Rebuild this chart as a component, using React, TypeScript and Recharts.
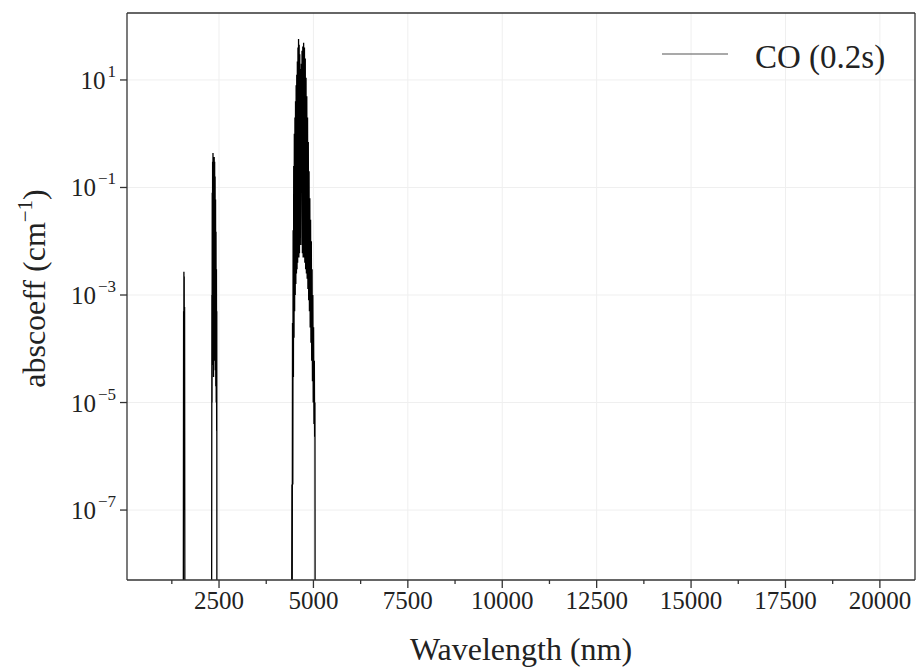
import React from 'react';
import { LineChart, Line, XAxis, YAxis, CartesianGrid, ReferenceLine } from 'recharts';

// CO absorption spectrum: [wavelength nm, abscoeff cm^-1]
const band1: [number, number][] = [
  [1550, 1e-12], [1562, 5e-4], [1566, 1e-7], [1570, 2.7e-3], [1574, 1e-7],
  [1578, 2.2e-3], [1582, 1e-7], [1588, 6e-4], [1594, 1e-8], [1600, 1e-12],
];

const band2: [number, number][] = [
  [2300, 1e-12], [2311, 1e-3], [2315, 1e-5], [2320, 0.08], [2325, 5e-5],
  [2330, 0.3], [2335, 6e-5], [2340, 0.44], [2345, 6e-5], [2350, 0.36],
  [2355, 3e-5], [2360, 0.34], [2366, 6e-5], [2372, 0.37], [2378, 7e-5],
  [2384, 0.3], [2390, 6e-5], [2396, 0.16], [2402, 4e-5], [2408, 0.06],
  [2414, 2e-5], [2420, 0.015], [2426, 1e-5], [2432, 3e-3], [2437, 3e-6],
  [2441, 5e-4], [2444, 1e-12],
];

const band3: [number, number][] = [
  [4415, 1e-12], [4430, 3e-7], [4438, 1e-9], [4446, 3e-4], [4454, 3e-7],
  [4462, 0.016], [4470, 3e-5], [4478, 0.25], [4486, 1.6e-4], [4494, 1],
  [4502, 5e-4], [4510, 2], [4518, 1e-3], [4526, 4], [4534, 1.6e-3],
  [4542, 8], [4550, 2.5e-3], [4558, 12.5], [4566, 3e-3], [4574, 22],
  [4582, 4e-3], [4590, 40], [4598, 5e-3], [4606, 58], [4614, 5e-3],
  [4622, 45], [4630, 6e-3], [4638, 30], [4646, 0.1], [4652, 16],
  [4666, 8.5e-3], [4680, 20], [4688, 0.1], [4698, 35], [4708, 6e-3],
  [4718, 42], [4728, 5e-3], [4740, 49], [4750, 5e-3], [4762, 40],
  [4772, 4e-3], [4784, 25], [4794, 3e-3], [4804, 11], [4814, 2.5e-3],
  [4824, 5], [4834, 2e-3], [4844, 2], [4854, 1.3e-3], [4864, 0.7],
  [4874, 8e-4], [4884, 0.2], [4894, 5e-4], [4904, 0.063], [4914, 2.5e-4],
  [4924, 0.025], [4934, 1.3e-4], [4944, 0.01], [4954, 6e-5], [4964, 3e-3],
  [4974, 2.5e-5], [4984, 1e-3], [4994, 1e-5], [5004, 2.5e-4], [5014, 4e-6],
  [5024, 6e-5], [5032, 2.3e-6], [5040, 1e-5], [5048, 1e-12],
];

const tail: [number, number][] = [[20900, 1e-12]];

const xMajor = [2500, 5000, 7500, 10000, 12500, 15000, 17500, 20000];
const xMinor = [1250, 3750, 6250, 8750, 11250, 13750, 16250, 18750];
const yTicks = [10, 0.1, 1e-3, 1e-5, 1e-7];

const X_DOMAIN: [number, number] = [63, 20930];
const Y_DOMAIN: [number, number] = [5e-9, 176];

const data = [...band1, ...band2, ...band3, ...tail].map(([wl, abs]) => ({ wl, abs }));
const xTicks = [...xMinor, ...xMajor].sort((a, b) => a - b);

const FONT = '"Liberation Serif", "Times New Roman", serif';
const AXIS = '#333';

const XTick = (props: any) => {
  const { x, y, payload } = props;
  const major = xMajor.includes(payload.value);
  return (
    <g>
      <line x1={x} x2={x} y1={y} y2={y + (major ? 8 : 4)} stroke={AXIS} strokeWidth={1.3} />
      {major && (
        <text x={x} y={y + 29} textAnchor="middle" fontFamily={FONT} fontSize={25} fill="#222">
          {payload.value}
        </text>
      )}
    </g>
  );
};

const YTick = (props: any) => {
  const { x, y, payload } = props;
  const exp = Math.round(Math.log10(payload.value));
  const expText = exp < 0 ? '\u2212' + Math.abs(exp) : String(exp);
  return (
    <g>
      <line x1={x - 7} x2={x} y1={y} y2={y} stroke={AXIS} strokeWidth={1.3} />
      <text x={x - 11} y={y + 9} textAnchor="end" fontFamily={FONT} fontSize={25} fill="#222">
        <tspan>10</tspan>
        <tspan dx={2} dy={-12} fontSize={17}>{expText}</tspan>
      </text>
    </g>
  );
};

const XTitle = (props: any) => {
  const vb = props.viewBox || { x: 127, y: 580, width: 788 };
  return (
    <text x={vb.x + vb.width / 2} y={vb.y + 80} textAnchor="middle" fontFamily={FONT} fontSize={32} fill="#222">
      Wavelength (nm)
    </text>
  );
};

const YTitle = (props: any) => {
  const vb = props.viewBox || { y: 13, height: 567 };
  const cy = vb.y + vb.height / 2 - 8;
  return (
    <text
      x={45}
      y={cy}
      transform={`rotate(-90 45 ${cy})`}
      textAnchor="middle"
      fontFamily={FONT}
      fontSize={32}
      fill="#222"
    >
      <tspan>abscoeff (cm</tspan>
      <tspan dy={-13} fontSize={21}>{'\u22121'}</tspan>
      <tspan dy={13}>)</tspan>
    </text>
  );
};

const App = () => (
  <div style={{ position: 'absolute', left: 0, top: 0, width: 917, height: 669, background: '#fff' }}>
    <LineChart width={917} height={669} data={data} margin={{ top: 13, right: 2, bottom: 0, left: 0 }}>
      <CartesianGrid stroke="#efefef" verticalValues={xMajor} horizontalValues={yTicks} />
      <XAxis
        dataKey="wl"
        type="number"
        domain={X_DOMAIN}
        allowDataOverflow
        ticks={xTicks}
        interval={0}
        tickSize={0}
        tickMargin={0}
        tickLine={false}
        tick={<XTick />}
        height={89}
        axisLine={{ stroke: AXIS, strokeWidth: 1.3 }}
        label={<XTitle />}
      />
      <YAxis
        type="number"
        scale="log"
        domain={Y_DOMAIN}
        allowDataOverflow
        ticks={yTicks}
        interval={0}
        width={127}
        tickSize={0}
        tickMargin={0}
        tickLine={false}
        tick={<YTick />}
        axisLine={{ stroke: AXIS, strokeWidth: 1.3 }}
        label={<YTitle />}
      />
      <ReferenceLine y={Y_DOMAIN[1]} stroke={AXIS} strokeWidth={1.3} ifOverflow="visible" />
      <ReferenceLine x={X_DOMAIN[1]} stroke={AXIS} strokeWidth={1.3} ifOverflow="visible" />
      <Line
        dataKey="abs"
        type="linear"
        stroke="#000"
        strokeWidth={1.3}
        dot={false}
        isAnimationActive={false}
      />
    </LineChart>
    <svg width={917} height={669} style={{ position: 'absolute', left: 0, top: 0, pointerEvents: 'none' }}>
      <line x1={662} x2={728} y1={54} y2={54} stroke="#555" strokeWidth={1.2} />
      <text x={755} y={68} fontFamily={FONT} fontSize={33} fill="#222">
        CO (0.2s)
      </text>
    </svg>
  </div>
);

export default App;
